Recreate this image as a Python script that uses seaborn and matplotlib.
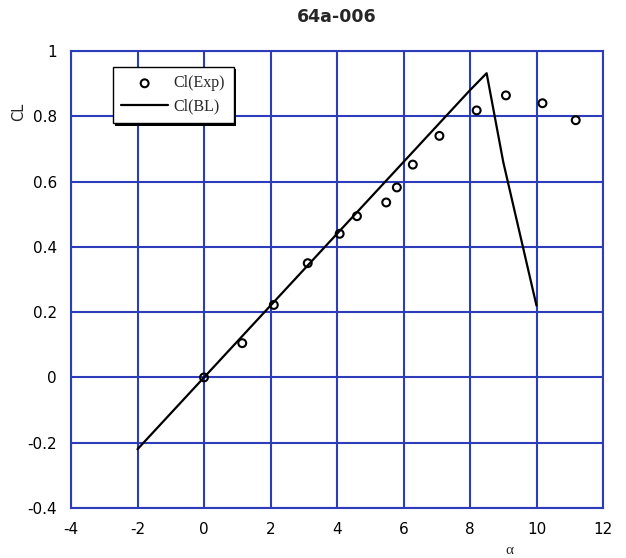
import matplotlib
matplotlib.use("Agg")
import matplotlib.pyplot as plt
import seaborn as sns
import pandas as pd

# Experimental data
alpha_exp = [0.0, 1.15, 2.1, 3.12, 4.08, 4.6, 5.48, 5.8, 6.28, 7.08, 8.2, 9.08, 10.18, 11.18]
cl_exp = [0.0, 0.105, 0.222, 0.35, 0.44, 0.494, 0.536, 0.582, 0.652, 0.74, 0.818, 0.864, 0.84, 0.788]

# Boundary-layer computation
alpha_bl = [-2.0, 0.0, 2.0, 4.0, 6.0, 8.0, 8.5, 9.0, 10.0]
cl_bl = [-0.22, 0.0, 0.22, 0.44, 0.66, 0.88, 0.932, 0.66, 0.22]

x_ticks = [-4, -2, 0, 2, 4, 6, 8, 10, 12]
y_ticks = [-0.4, -0.2, 0, 0.2, 0.4, 0.6, 0.8, 1]
y_tick_labels = ["-0.4", "-0.2", "0", "0.2", "0.4", "0.6", "0.8", "1"]

sns.set_style("white")
plt.rcParams["font.family"] = ["DejaVu Sans"]

BLUE = "#2d3cb8"

fig = plt.figure(figsize=(6.26, 5.58), dpi=100)
L, R, T, B = 71, 603, 51, 508
W, H = 626, 558
ax = fig.add_axes([L / W, 1 - B / H, (R - L) / W, (B - T) / H])

df_exp = pd.DataFrame({"alpha": alpha_exp, "cl": cl_exp})
df_bl = pd.DataFrame({"alpha": alpha_bl, "cl": cl_bl})

sns.lineplot(data=df_bl, x="alpha", y="cl", ax=ax, color="black", lw=1.6,
             sort=False, estimator=None, label="Cl(BL)", zorder=3)
sns.scatterplot(data=df_exp, x="alpha", y="cl", ax=ax, marker="o", s=32,
                facecolor="none", edgecolor="black", linewidth=1.5,
                label="Cl(Exp)", zorder=4)

ax.set_xlim(-4, 12)
ax.set_ylim(-0.4, 1)
ax.set_xticks(x_ticks)
ax.set_xticklabels([str(v) for v in x_ticks])
ax.set_yticks(y_ticks)
ax.set_yticklabels(y_tick_labels)
ax.grid(True, color=BLUE, lw=1.5, zorder=1)
ax.set_axisbelow(True)
for s in ax.spines.values():
    s.set_color(BLUE)
    s.set_linewidth(1.5)
ax.tick_params(length=0, labelsize=11, pad=10, colors="black")
ax.set_xlabel("")
ax.set_ylabel("")

ax.set_title("64a-006", fontsize=12.5, fontweight="bold", pad=21)

fig.text(509 / W, 1 - 551 / H, "α", ha="center", va="center", fontsize=11,
         family="Liberation Serif")
fig.text(18.5 / W, 1 - 112 / H, "CL", ha="center", va="center", fontsize=10.5,
         rotation=90, family="DejaVu Sans")

handles, labels = ax.get_legend_handles_labels()
order = [labels.index("Cl(Exp)"), labels.index("Cl(BL)")]
leg = ax.legend([handles[i] for i in order], [labels[i] for i in order],
                loc="upper left", bbox_to_anchor=((112.7 - L) / (R - L), 1 - (66.7 - T) / (B - T)),
                borderaxespad=0, frameon=True, fancybox=False, framealpha=1,
                edgecolor="black", shadow={"color": "black", "alpha": 1, "lw": 0},
                prop={"family": "Liberation Serif", "size": 11.5},
                handlelength=2.9, handletextpad=0.35, borderpad=0.55,
                labelspacing=0.45)
leg.get_frame().set_linewidth(1.0)

fig.savefig("out.png", dpi=100)
